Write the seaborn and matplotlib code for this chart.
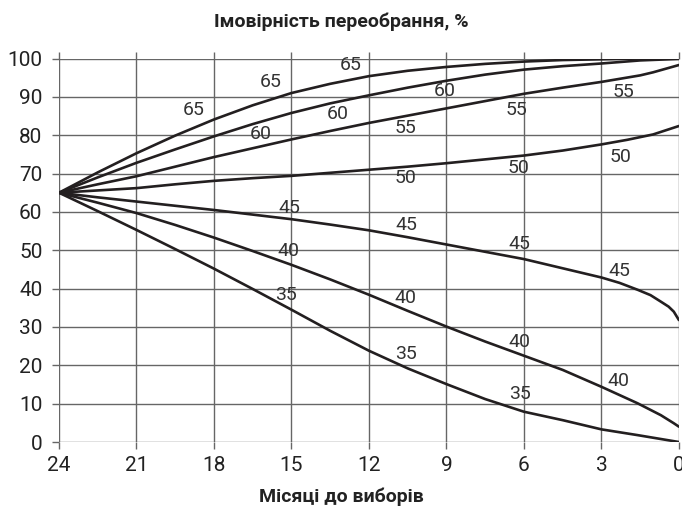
import numpy as np
import pandas as pd
import matplotlib
matplotlib.use("Agg")
import matplotlib.pyplot as plt
import seaborn as sns

# криві: місяці до виборів -> ймовірність переобрання, %
x_65 = [24, 22.5, 21, 19.5, 18, 16.5, 15, 13.5, 12, 10.5, 9, 7.5, 6, 4.5, 3, 1.5, 0]
y_65 = [65, 70.3, 75.3, 79.9, 84.1, 87.8, 91.0, 93.4, 95.4, 96.8, 97.8, 98.6, 99.2, 99.6, 99.8, 100, 100]
x_60 = [24, 22.5, 21, 19.5, 18, 16.5, 15, 13.5, 12, 10.5, 9, 7.5, 6, 4.5, 3, 1.5, 0]
y_60 = [65, 69.0, 72.8, 76.3, 79.7, 82.9, 85.8, 88.3, 90.4, 92.4, 94.2, 95.8, 97.1, 98.0, 98.7, 99.5, 99.9]
x_55 = [24, 22.5, 21, 19.5, 18, 16.5, 15, 13.5, 12, 10.5, 9, 7.5, 6, 4.5, 3, 1.5, 1, 0]
y_55 = [65, 67.2, 69.3, 71.8, 74.3, 76.6, 78.9, 81.1, 83.2, 85.1, 87.0, 88.9, 90.8, 92.4, 93.9, 95.6, 96.4, 98.3]
x_50 = [24, 22.5, 21, 19.5, 18, 16.5, 15, 13.5, 12, 10.5, 9, 7.5, 6, 4.5, 3, 2, 1, 0]
y_50 = [65, 65.6, 66.2, 67.2, 68.1, 68.8, 69.4, 70.2, 71.0, 71.8, 72.7, 73.7, 74.7, 76.0, 77.6, 78.8, 80.2, 82.4]
x_45 = [24, 22.5, 21, 19.5, 18, 16.5, 15, 13.5, 12, 10.5, 9, 7.5, 6, 4.5, 3, 2.3, 1.6, 1.1, 0.7, 0.4, 0.2, 0]
y_45 = [65, 63.8, 62.7, 61.6, 60.5, 59.3, 58.1, 56.7, 55.2, 53.4, 51.5, 49.6, 47.7, 45.3, 42.9, 41.5, 39.7, 38.3, 36.6, 35.3, 34.0, 31.8]
x_40 = [24, 22.5, 21, 19.5, 18, 16.5, 15, 13.5, 12, 10.5, 9, 7.5, 6, 4.5, 3, 1.6, 0.7, 0.2, 0]
y_40 = [65, 62.4, 59.7, 56.6, 53.3, 49.8, 46.2, 42.4, 38.4, 34.2, 30.1, 26.2, 22.5, 18.8, 14.4, 10.1, 7.0, 4.9, 4.0]
x_35 = [24, 22.5, 21, 19.5, 18, 16.5, 15, 13.5, 12, 10.5, 9, 7.5, 6, 4.5, 3, 1.6, 0]
y_35 = [65, 60.2, 55.3, 50.3, 45.2, 39.9, 34.5, 29.0, 23.8, 19.2, 15.1, 11.2, 7.9, 5.7, 3.3, 1.8, 0]

curves = {
    "65": (x_65, y_65), "60": (x_60, y_60), "55": (x_55, y_55),
    "50": (x_50, y_50), "45": (x_45, y_45), "40": (x_40, y_40),
    "35": (x_35, y_35),
}

# підписи на кривих
label_text = ["65", "65", "65", "60", "60", "60", "55", "55", "55",
              "50", "50", "50", "45", "45", "45", "45",
              "40", "40", "40", "40", "35", "35", "35"]
label_x = [18.8, 15.8, 12.7, 16.2, 13.2, 9.07, 10.6, 6.3, 2.16,
           10.6, 6.2, 2.25, 15.1, 10.55, 6.16, 2.3,
           15.1, 10.6, 6.16, 2.35, 15.2, 10.55, 6.16]
label_y = [86.5, 93.8, 98.4, 80.2, 85.6, 91.5, 81.9, 86.7, 91.2,
           68.8, 71.5, 74.3, 61.1, 56.7, 51.7, 44.7,
           49.7, 37.5, 26.2, 16.0, 38.4, 23.0, 12.5]

x_ticks = [24, 21, 18, 15, 12, 9, 6, 3, 0]
y_ticks = [0, 10, 20, 30, 40, 50, 60, 70, 80, 90, 100]

rows = []
for name, (xs, ys) in curves.items():
    for xv, yv in zip(xs, ys):
        rows.append({"month": xv, "value": yv, "curve": name})
df = pd.DataFrame(rows)

sns.set_style("white")
plt.rcParams['font.family'] = ['Roboto', 'DejaVu Sans']

fig = plt.figure(figsize=(6.82, 5.15), dpi=100)
ax = fig.add_axes([0.0865, 0.1417, 0.909, 0.7447])

sns.lineplot(data=df, x="month", y="value", units="curve", estimator=None,
             sort=False, color="#231f20", linewidth=1.9, ax=ax, legend=False)

for t, xv, yv in zip(label_text, label_x, label_y):
    ax.text(xv, yv, t, ha="center", va="center", fontsize=14, color="#333333")

ax.set_xlim(24, 0)
ax.set_ylim(0, 100)
ax.set_xticks(x_ticks)
ax.set_yticks(y_ticks)
ax.grid(True, color="#666666", linewidth=1.0)
ax.set_axisbelow(True)
for s in ax.spines.values():
    s.set_visible(False)
ax.tick_params(axis="both", direction="out", length=5, width=1.0,
               color="#666666", labelsize=15, labelcolor="#222222")
ax.tick_params(axis="x", top=True, bottom=True, pad=5)
ax.tick_params(axis="y", left=True, pad=7)

ax.set_xlabel("")
ax.set_ylabel("")
fig.text(0.5, 0.035, "Місяці до виборів", ha="center", va="center",
         fontsize=14, fontweight="bold", color="#222222")
fig.text(0.5, 0.957, "Імовірність переобрання, %", ha="center", va="center",
         fontsize=14, fontweight="bold", color="#222222")

fig.savefig("out.png", dpi=100)
